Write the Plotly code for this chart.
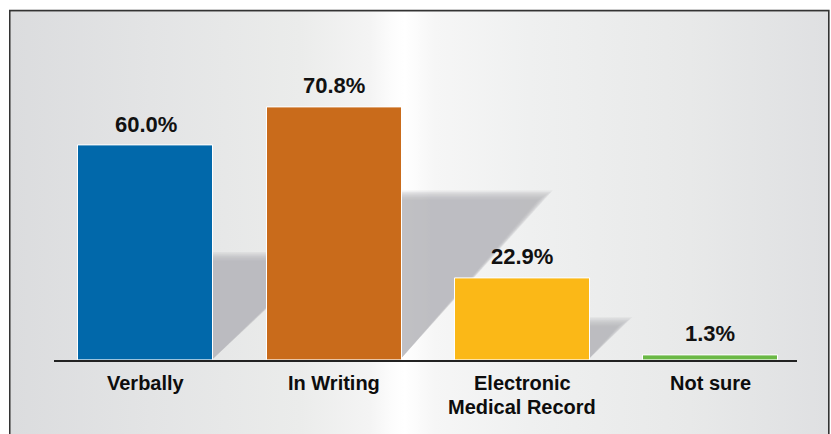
import base64
import plotly.graph_objects as go

# Survey answers and their shares
categories = ["Verbally", "In Writing", "Electronic<br>Medical Record", "Not sure"]
percentages = [60.0, 70.8, 22.9, 1.3]

# Styling
bar_colors = ["#0168aa", "#c96b1b", "#fbb817", "#6ab845"]
shadow_depth = [0.48, 0.65, 0.46, 0.0]   # share of the bar height reached by its cast shadow
shadow_slant = [1.03, 0.87, 0.92, 0.0]   # horizontal run of the shadow per unit of drop (px/px)

W, H = 831, 434
PLOT_L, PLOT_R = 54, 797          # x extent of the baseline
BASE_Y = 360                      # baseline, px from top
PX_PER_PCT = 3.57
Y_MAX = 80
X_RANGE = [-0.489, 3.462]
BAR_W = 0.718

x_px_per_unit = (PLOT_R - PLOT_L) / (X_RANGE[1] - X_RANGE[0])
plot_top = BASE_Y - Y_MAX * PX_PER_PCT

xs = list(range(len(categories)))

fig = go.Figure()

fig.add_trace(go.Bar(
    x=xs, y=percentages, width=BAR_W,
    marker=dict(color=bar_colors, line=dict(color="#ffffff", width=1)),
    hoverinfo="skip", showlegend=False,
))

shapes = []

# Cast shadows behind the bars, built up in soft layers
N_LAYERS = 8
for i, (v, d, s) in enumerate(zip(percentages, shadow_depth, shadow_slant)):
    if d <= 0:
        continue
    top = v * d
    drop_px = top * PX_PER_PCT
    x0 = i + BAR_W / 2
    for k in range(N_LAYERS):
        grow = (N_LAYERS - 1 - k) * 1.3 - 4
        t = top + grow / PX_PER_PCT
        run = (drop_px * s + grow * 1.6) / x_px_per_unit
        shapes.append(dict(
            type="path", xref="x", yref="y", layer="below",
            path=f"M {x0 - 0.01},0 L {x0 - 0.01},{t} L {x0 + run},{t} Z",
            fillcolor="#b3b4b7", opacity=0.18, line=dict(width=0),
        ))

# Frame around the chart
shapes.append(dict(
    type="rect", xref="paper", yref="paper", layer="above",
    x0=9.8 / W, x1=828.8 / W, y0=-0.05, y1=1 - 10.6 / H,
    line=dict(color="#333333", width=1.6), fillcolor="rgba(0,0,0,0)",
))

# Horizontal light gradient for the panel background
stops = [
    (0, "#dbdcde"), (140, "#e3e4e5"), (290, "#ebeceb"), (360, "#f4f4f4"),
    (382, "#fcfcfc"), (395, "#ffffff"), (425, "#f6f6f6"), (520, "#eff0f0"),
    (680, "#e8e9e9"), (819, "#dfe0e2"),
]
stop_xml = "".join(
    f'<stop offset="{p / 819:.4f}" stop-color="{c}"/>' for p, c in stops
)
svg = (
    '<svg xmlns="http://www.w3.org/2000/svg" width="819" height="424" '
    'viewBox="0 0 819 424" preserveAspectRatio="none">'
    f'<defs><linearGradient id="g" x1="0" y1="0" x2="1" y2="0">{stop_xml}</linearGradient></defs>'
    '<rect x="0" y="0" width="819" height="424" fill="url(#g)"/></svg>'
)
bg_src = "data:image/svg+xml;base64," + base64.b64encode(svg.encode()).decode()

annotations = []
VALUE_FONT = dict(family="Liberation Sans, Arial, sans-serif", size=22, color="#111111", weight="bold")
CAT_FONT = dict(family="Liberation Sans, Arial, sans-serif", size=20, color="#0d0d0d", weight="bold")

for i, v in enumerate(percentages):
    annotations.append(dict(
        x=i, y=v, xref="x", yref="y", text=f"{v:.1f}%",
        showarrow=False, yanchor="bottom", yshift=7, font=VALUE_FONT,
    ))

for i, cat in enumerate(categories):
    for j, line in enumerate(cat.split("<br>")):
        annotations.append(dict(
            x=i, y=0, xref="x", yref="y", text=line,
            showarrow=False, yanchor="top", yshift=-10 - 24 * j, font=CAT_FONT,
        ))

fig.update_layout(
    width=W, height=H,
    margin=dict(l=0, r=0, t=0, b=0),
    paper_bgcolor="#ffffff", plot_bgcolor="rgba(0,0,0,0)",
    xaxis=dict(domain=[PLOT_L / W, PLOT_R / W], range=X_RANGE, showticklabels=False,
               showgrid=False, zeroline=False, ticks="", showline=True,
               linecolor="#222222", linewidth=1.6, fixedrange=True),
    yaxis=dict(domain=[(H - BASE_Y) / H, (H - plot_top) / H], range=[0, Y_MAX],
               visible=False, showgrid=False, zeroline=False, fixedrange=True),
    shapes=shapes,
    annotations=annotations,
    images=[dict(source=bg_src, xref="paper", yref="paper", x=10.6 / W, y=1 - 11.4 / H,
                 sizex=817.4 / W, sizey=1 + 0.05 - 11.4 / H, sizing="stretch",
                 xanchor="left", yanchor="top", layer="below")],
    bargap=0,
)

fig.write_html("out.html")
